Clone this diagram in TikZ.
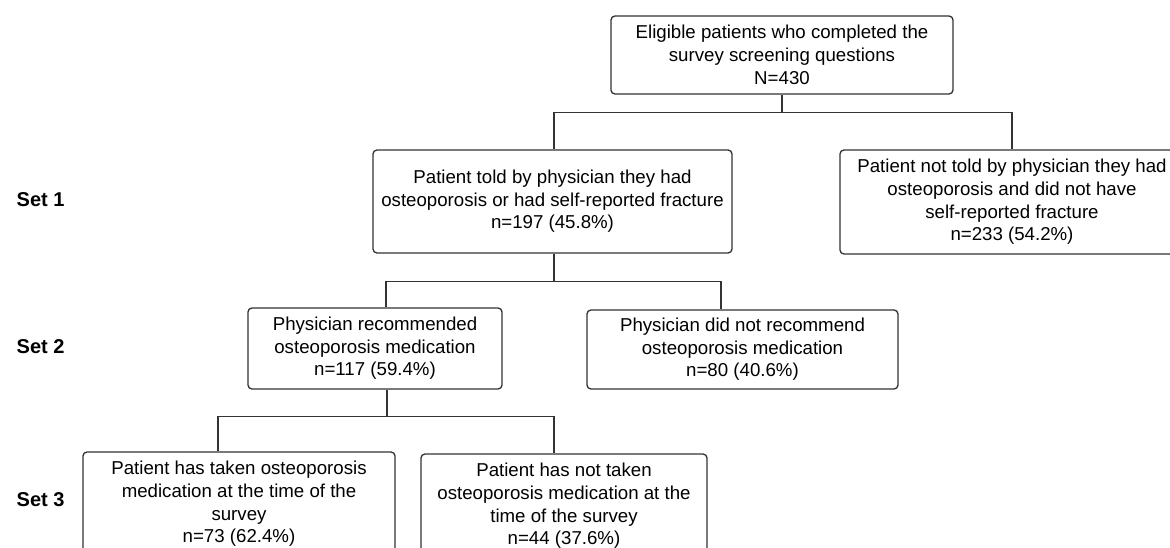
\documentclass[tikz,border=0pt]{standalone}
\usepackage{fontspec}
\setmainfont{Liberation Sans}
\tikzset{
    box/.style={draw=black!80, line width=1pt, rounded corners=3pt, align=center, inner sep=2pt, font=\fontsize{14}{17}\selectfont},
    link/.style={draw=black!80, line width=1pt},
    setlabel/.style={anchor=west, font=\fontsize{15}{18}\selectfont\bfseries}
}
\begin{document}
\begin{tikzpicture}[x=0.75pt,y=-0.75pt] % Flussdiagramm der Patienten
    \clip (0,0) rectangle (1170,548);
    \node[box, minimum width=256.5pt, minimum height=58.5pt] (top) at (782,55) {Eligible patients who completed the\\survey screening questions\\N=430};
    \node[box, minimum width=269.25pt, minimum height=77.25pt] (s1a) at (552.5,201.5) {Patient told by physician they had\\osteoporosis or had self-reported fracture\\n=197 (45.8\%)};
    \node[box, minimum width=258pt, minimum height=78pt] (s1b) at (1012,202) {Patient not told by physician they had\\osteoporosis and did not have\\self-reported fracture\\n=233 (54.2\%)};
    \node[box, minimum width=190.5pt, minimum height=60.75pt] (s2a) at (375,348.5) {Physician recommended\\osteoporosis medication\\n=117 (59.4\%)};
    \node[box, minimum width=233.25pt, minimum height=59.25pt] (s2b) at (742.5,349.5) {Physician did not recommend\\osteoporosis medication\\n=80 (40.6\%)};
    \node[box, minimum width=234pt, minimum height=78pt] (s3a) at (239,504) {Patient has taken osteoporosis\\medication at the time of the\\survey\\n=73 (62.4\%)};
    \node[box, minimum width=214.5pt, minimum height=78pt] (s3b) at (564,506) {Patient has not taken\\osteoporosis medication at the\\time of the survey\\n=44 (37.6\%)};
    \node[setlabel] (set1) at (12,200) {Set 1};
    \node[setlabel] (set2) at (12,347) {Set 2};
    \node[setlabel] (set3) at (12,500) {Set 3};
    % Verbindungen
    \draw[link] (top.south) -- ++(0,18) coordinate (j1);
    \draw[link] ([xshift=1pt]s1a.north) |- (j1) -| (s1b.north);
    \draw[link] ([xshift=1pt]s1a.south) -- ++(0,28) coordinate (j2);
    \draw[link] ([xshift=8.25pt]s2a.north) |- (j2) -| ([xshift=-16.1pt]s2b.north);
    \draw[link] ([xshift=9pt]s2a.south) -- ++(0,27) coordinate (j3);
    \draw[link] ([xshift=-15.75pt]s3a.north) |- (j3) -| ([xshift=-7.5pt]s3b.north);
\end{tikzpicture}
\end{document}
